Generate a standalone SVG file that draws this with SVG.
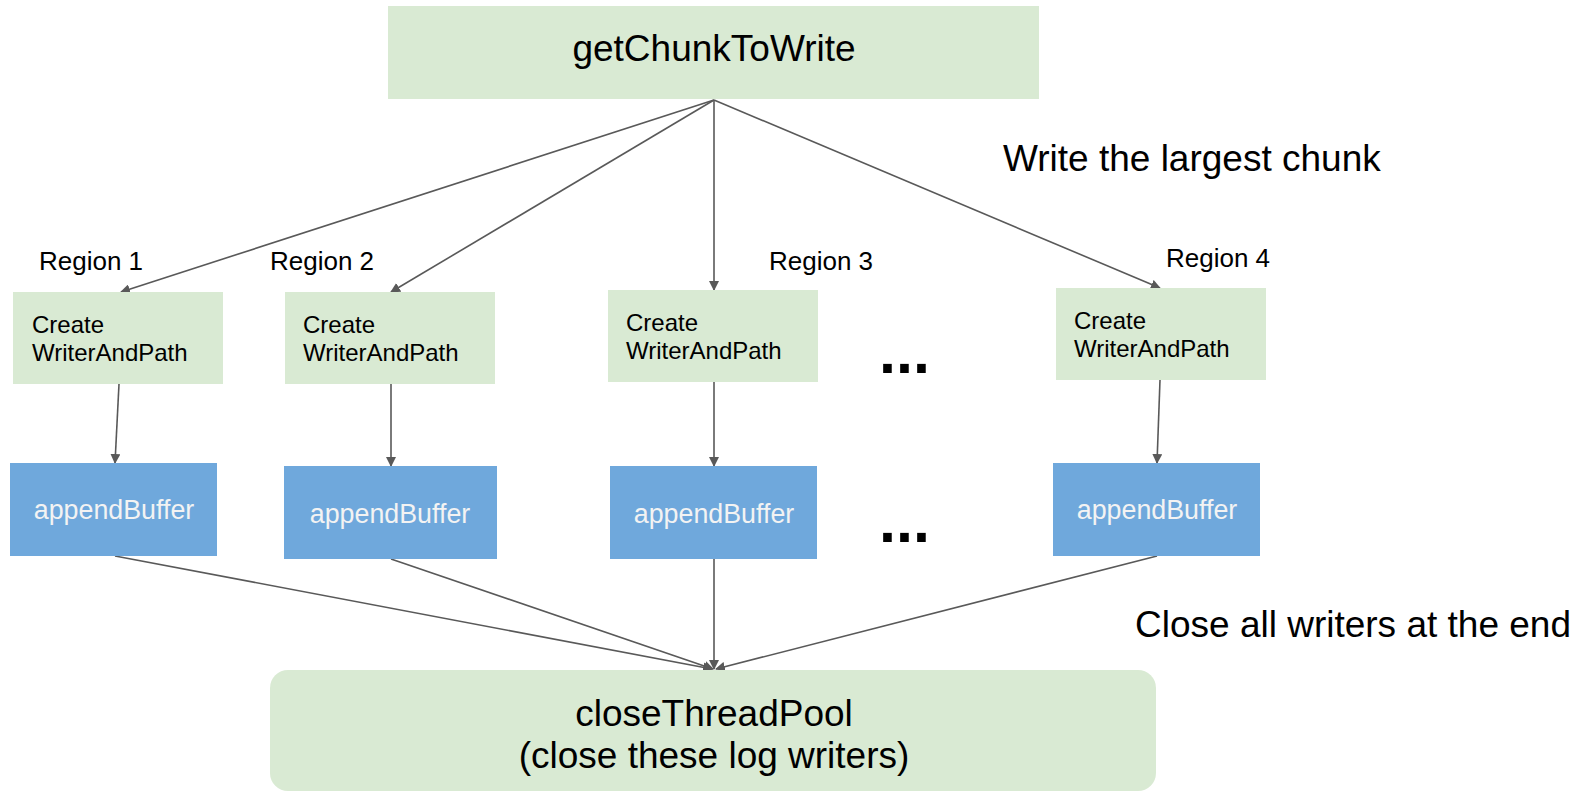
<svg xmlns="http://www.w3.org/2000/svg" width="1581" height="792" viewBox="0 0 1581 792">
<defs>
<style>
.g{fill:#d9ead3}
.b{fill:#6fa8dc}
.t{font-family:"Liberation Sans",Arial,sans-serif;fill:#000}
.big{font-size:37px}
.reg{font-size:26px}
.cr{font-size:24px}
.ab{font-size:26.8px;fill:#f3f3f3;text-anchor:middle}
.dots{font-size:61px;font-weight:bold}
.c{stroke:#595959;stroke-width:1.6;fill:none;marker-end:url(#ah)}
</style>
<marker id="ah" markerUnits="userSpaceOnUse" markerWidth="10" markerHeight="10" refX="9" refY="5" orient="auto">
<path d="M0,0 L10,5 L0,10 z" fill="#595959"/>
</marker>
</defs>
<rect width="1581" height="792" fill="#fff"/>

<g id="connectors">
<line class="c" x1="714" y1="100" x2="121" y2="292"/>
<line class="c" x1="714" y1="100" x2="391" y2="292"/>
<line class="c" x1="714" y1="100" x2="714" y2="290"/>
<line class="c" x1="714" y1="100" x2="1160" y2="288"/>
<line class="c" x1="119" y1="384" x2="115" y2="463"/>
<line class="c" x1="391" y1="384" x2="391" y2="466"/>
<line class="c" x1="714" y1="382" x2="714" y2="466"/>
<line class="c" x1="1160" y1="380" x2="1157" y2="463"/>
<line class="c" x1="115" y1="556" x2="712" y2="669"/>
<line class="c" x1="391" y1="559" x2="713" y2="669"/>
<line class="c" x1="714" y1="559" x2="714" y2="669"/>
<line class="c" x1="1157" y1="556" x2="716" y2="669"/>
</g>

<g id="getChunkToWrite">
<rect class="g" x="388" y="6" width="651" height="93"/>
<text class="t big" x="714" y="61" text-anchor="middle">getChunkToWrite</text>
</g>

<g id="note-largest">
<text class="t big" x="1003" y="171">Write the largest chunk</text>
</g>

<g id="region1">
<text class="t reg" x="39" y="270">Region 1</text>
<rect class="g" x="13" y="292" width="210" height="92"/>
<text class="t cr" x="32" y="333">Create</text>
<text class="t cr" x="32" y="361">WriterAndPath</text>
</g>
<g id="region2">
<text class="t reg" x="270" y="270">Region 2</text>
<rect class="g" x="285" y="292" width="210" height="92"/>
<text class="t cr" x="303" y="333">Create</text>
<text class="t cr" x="303" y="361">WriterAndPath</text>
</g>
<g id="region3">
<text class="t reg" x="769" y="270">Region 3</text>
<rect class="g" x="608" y="290" width="210" height="92"/>
<text class="t cr" x="626" y="331">Create</text>
<text class="t cr" x="626" y="359">WriterAndPath</text>
</g>
<g id="region4">
<text class="t reg" x="1166" y="267">Region 4</text>
<rect class="g" x="1056" y="288" width="210" height="92"/>
<text class="t cr" x="1074" y="329">Create</text>
<text class="t cr" x="1074" y="357">WriterAndPath</text>
</g>

<g id="append1">
<rect class="b" x="10" y="463" width="207" height="93"/>
<text class="t ab" x="114" y="519">appendBuffer</text>
</g>
<g id="append2">
<rect class="b" x="284" y="466" width="213" height="93"/>
<text class="t ab" x="390" y="523">appendBuffer</text>
</g>
<g id="append3">
<rect class="b" x="610" y="466" width="207" height="93"/>
<text class="t ab" x="714" y="523">appendBuffer</text>
</g>
<g id="append4">
<rect class="b" x="1053" y="463" width="207" height="93"/>
<text class="t ab" x="1157" y="519">appendBuffer</text>
</g>

<g id="ellipsis">
<text class="t dots" x="879" y="373">...</text>
<text class="t dots" x="879" y="542">...</text>
</g>

<g id="note-close">
<text class="t big" x="1135" y="637">Close all writers at the end</text>
</g>

<g id="closeThreadPool">
<rect class="g" x="270" y="670" width="886" height="121" rx="18" ry="18"/>
<text class="t big" x="714" y="726" text-anchor="middle">closeThreadPool</text>
<text class="t big" x="714" y="768" text-anchor="middle">(close these log writers)</text>
</g>
</svg>
